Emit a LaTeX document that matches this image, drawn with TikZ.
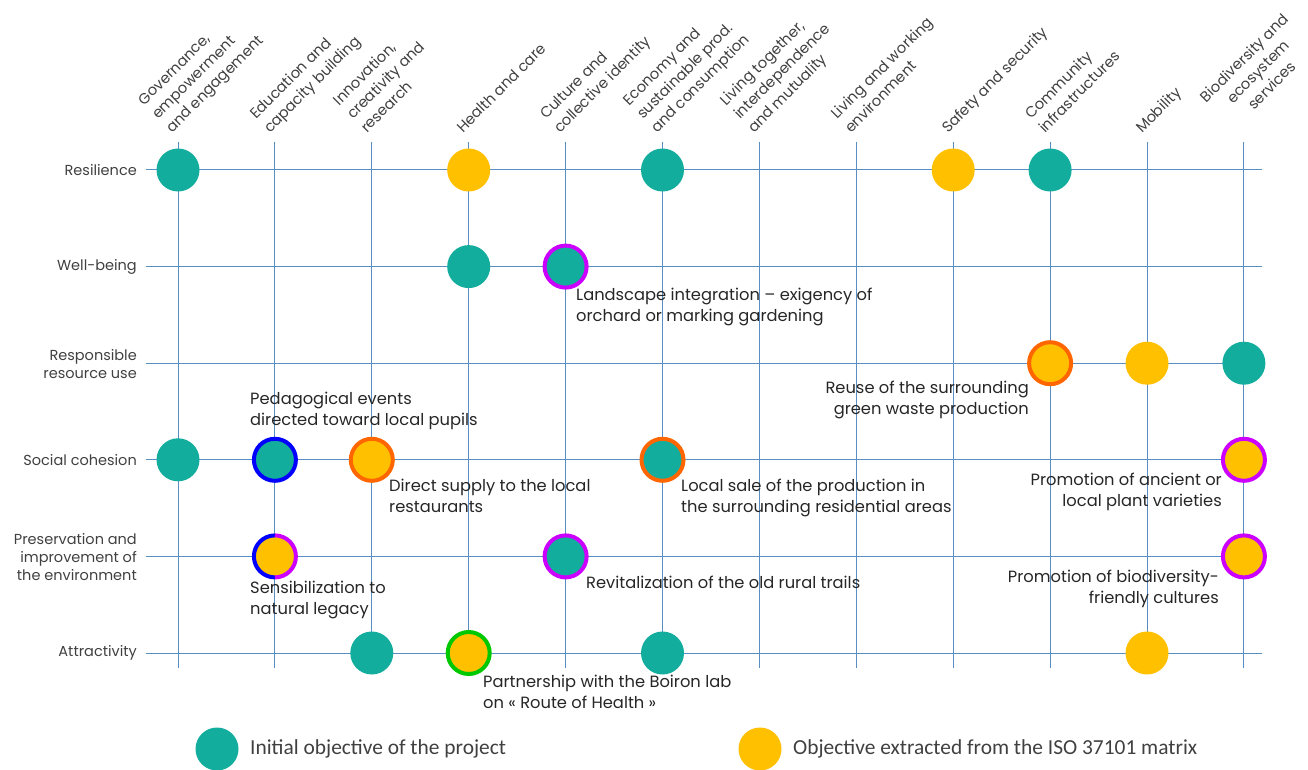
\documentclass[tikz,border=0pt]{standalone}
\usepackage{fontspec}
\setmainfont{Poppins}
\newfontfamily\legendfont{Carlito}
\definecolor{dotteal}{RGB}{19,173,158}
\definecolor{dotyellow}{RGB}{255,192,0}
\definecolor{gridblue}{RGB}{88,142,194}
\definecolor{textgray}{RGB}{64,64,64}
\definecolor{ringorange}{RGB}{255,102,0}
\definecolor{ringmagenta}{RGB}{204,0,255}
\definecolor{ringblue}{RGB}{0,0,255}
\definecolor{ringgreen}{RGB}{0,200,0}

\begin{document}
\begin{tikzpicture}[x=1pt,y=-1pt,
    gridline/.style={gridblue,line width=1pt},
    inidot/.style={circle,fill=dotteal,minimum size=43pt,inner sep=0pt},
    isodot/.style={circle,fill=dotyellow,minimum size=43pt,inner sep=0pt},
    ringed/.style={draw=#1,line width=4pt,minimum size=42pt},
    rowlab/.style={anchor=east,align=right,inner sep=0pt,text=textgray,
      font=\fontsize{14.5}{18}\selectfont},
    collab/.style={rotate=45,anchor=south west,align=left,inner sep=0pt,
      text depth=0pt,text=textgray,font=\fontsize{14.8}{19.5}\selectfont},
    note/.style={align=left,inner sep=0pt,text=black!85,
      font=\fontsize{16.3}{21}\selectfont},
    legtext/.style={anchor=west,inner sep=0pt,text=textgray,
      font=\legendfont\fontsize{21.4}{24}\selectfont}]
    \useasboundingbox (0,0) rectangle (1308,770);
    % Grid
    \foreach \i in {0,...,11}
      \draw[gridline] ({178+96.9*\i},142) -- ({178+96.9*\i},668);
    \foreach \j in {0,...,5}
      \draw[gridline] (146,{170+96.6*\j}) -- (1262,{170+96.6*\j});
    \foreach \i in {1,...,12}
      \foreach \j in {1,...,6}
        \coordinate (g\i-\j) at ({178+96.9*(\i-1)},{170+96.6*(\j-1)});
    % Rows
    \node[rowlab] (row1) at (137,170) {Resilience};
    \node[rowlab] (row2) at (137,266.6) {Well-being};
    \node[rowlab] (row3) at (137,364.5) {Responsible\\resource use};
    \node[rowlab] (row4) at (137,459.8) {Social cohesion};
    \node[rowlab] (row5) at (137,557) {Preservation and\\improvement of\\the environment};
    \node[rowlab] (row6) at (137,653) {Attractivity};
    % Columns
    \node[collab] (col1) at (172,134) {Governance,\\empowerment\\and engagement};
    \node[collab] (col2) at (270,134) {Education and\\capacity building};
    \node[collab] (col3) at (367,134) {Innovation,\\creativity and\\research};
    \node[collab] (col4) at (463,134) {Health and care};
    \node[collab] (col5) at (560,134) {Culture and\\collective identity};
    \node[collab] (col6) at (657,134) {Economy and\\sustainable prod.\\and consumption};
    \node[collab] (col7) at (754,134) {Living together,\\interdependence\\and mutuality};
    \node[collab] (col8) at (851,134) {Living and working\\environment};
    \node[collab] (col9) at (948,134) {Safety and security};
    \node[collab] (col10) at (1045,134) {Community\\infrastructures};
    \node[collab] (col11) at (1142,134) {Mobility};
    \node[collab,align=center] (col12) at (1234,131) {Biodiversity and\\ecosystem\\services};
    % Dots
    \node[inidot] (res1) at (g1-1) {};
    \node[isodot] (res4) at (g4-1) {};
    \node[inidot] (res6) at (g6-1) {};
    \node[isodot] (res9) at (g9-1) {};
    \node[inidot] (res10) at (g10-1) {};
    \node[inidot] (wel4) at (g4-2) {};
    \node[inidot,ringed=ringmagenta] (wel5) at (g5-2) {};
    \node[isodot,ringed=ringorange] (rru10) at (g10-3) {};
    \node[isodot] (rru11) at (g11-3) {};
    \node[inidot] (rru12) at (g12-3) {};
    \node[inidot] (soc1) at (g1-4) {};
    \node[inidot,ringed=ringblue] (soc2) at (g2-4) {};
    \node[isodot,ringed=ringorange] (soc3) at (g3-4) {};
    \node[inidot,ringed=ringorange] (soc6) at (g6-4) {};
    \node[isodot,ringed=ringmagenta] (soc12) at (g12-4) {};
    \node[isodot,minimum size=42pt] (pre2) at (g2-5) {};
    \draw[ringblue,line width=4pt] (pre2.center) ++(90:21) arc[start angle=90,end angle=270,radius=21];
    \draw[ringmagenta,line width=4pt] (pre2.center) ++(-90:21) arc[start angle=-90,end angle=90,radius=21];
    \node[inidot,ringed=ringmagenta] (pre5) at (g5-5) {};
    \node[isodot,ringed=ringmagenta] (pre12) at (g12-5) {};
    \node[inidot] (att3) at (g3-6) {};
    \node[isodot,ringed=ringgreen] (att4) at (g4-6) {};
    \node[inidot] (att6) at (g6-6) {};
    \node[isodot] (att11) at (g11-6) {};
    % Notes
    \node[note,anchor=north west] (landscape) at (576,288) {Landscape integration -- exigency of\\orchard or marking gardening};
    \node[note,anchor=north east,align=right] (reuse) at (1029,381) {Reuse of the surrounding\\green waste production};
    \node[note,anchor=north west] (pedago) at (250,392) {Pedagogical events\\directed toward local pupils};
    \node[note,anchor=north west] (supply) at (389,479) {Direct supply to the local\\restaurants};
    \node[note,anchor=north west] (sale) at (681,479) {Local sale of the production in\\the surrounding residential areas};
    \node[note,anchor=north east,align=right] (ancient) at (1222,473) {Promotion of ancient or\\local plant varieties};
    \node[note,anchor=north west] (sensib) at (250,581) {Sensibilization to\\natural legacy};
    \node[note,anchor=north west] (trails) at (586,576) {Revitalization of the old rural trails};
    \node[note,anchor=north east,align=right] (biodiv) at (1219,570) {Promotion of biodiversity-\\friendly cultures};
    \node[note,anchor=north west] (boiron) at (483,675) {Partnership with the Boiron lab\\on « Route of Health »};
    % Legend
    \node[inidot] (leg1) at (217,749) {};
    \node[legtext] (leg1txt) at (250,749) {Initial objective of the project};
    \node[isodot] (leg2) at (760,749) {};
    \node[legtext] (leg2txt) at (793,749) {Objective extracted from the ISO 37101 matrix};
\end{tikzpicture}
\end{document}
